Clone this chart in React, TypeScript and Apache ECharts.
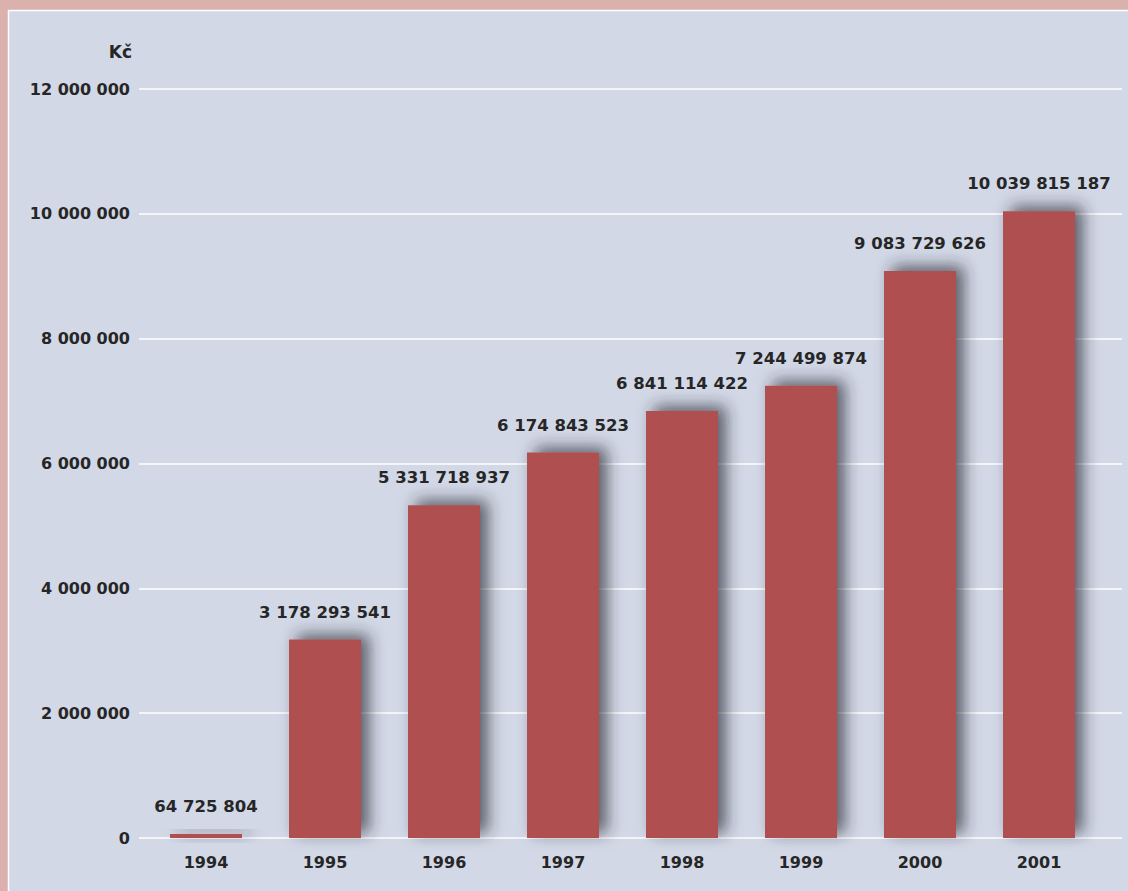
import React, { useEffect, useRef } from "react";
import * as echarts from "echarts";

const years = ["1994", "1995", "1996", "1997", "1998", "1999", "2000", "2001"];
const valuesKc = [64725804, 3178293541, 5331718937, 6174843523, 6841114422, 7244499874, 9083729626, 10039815187];
const unitLabel = "Kč";
const yMax = 12000000;
const yStep = 2000000;

const fmt = (n: number) => String(Math.round(n)).replace(/\B(?=(\d{3})+(?!\d))/g, " ");

export default function App() {
  const ref = useRef<HTMLDivElement>(null);
  useEffect(() => {
    if (!ref.current) return;
    const chart = echarts.init(ref.current, undefined, { renderer: "svg" });
    const font = "'DejaVu Sans', sans-serif";
    const top = 89;
    const bottom = 891 - 838;
    chart.setOption({
      animation: false,
      backgroundColor: "transparent",
      graphic: [
        {
          type: "rect",
          shape: { x: 8.5, y: 10.5, width: 1130, height: 890 },
          style: { fill: "#d2d8e6", stroke: "#ffffff", lineWidth: 1.5 },
          z: -10,
        },
        {
          type: "text",
          x: 132,
          y: 52,
          style: { text: unitLabel, fill: "#262626", font: `bold 17px ${font}`, textAlign: "right", textVerticalAlign: "middle" },
        },
      ],
      grid: [
        { left: 139, right: 6, top, bottom },
        { left: 146.5, right: 29.5, top, bottom },
      ],
      xAxis: [
        { type: "category", gridIndex: 0, data: years, show: false },
        {
          type: "category",
          gridIndex: 1,
          data: years,
          axisLine: { show: false },
          axisTick: { show: false },
          axisLabel: { color: "#262626", fontFamily: font, fontWeight: "bold", fontSize: 16, margin: 16 },
        },
      ],
      yAxis: [
        {
          type: "value",
          gridIndex: 0,
          min: 0,
          max: yMax,
          interval: yStep,
          axisLine: { show: false },
          axisTick: { show: false },
          splitLine: { lineStyle: { color: "#ffffff", width: 1.5 } },
          axisLabel: { color: "#262626", fontFamily: font, fontWeight: "bold", fontSize: 16, margin: 9, formatter: (v: number) => fmt(v) },
        },
        { type: "value", gridIndex: 1, min: 0, max: yMax, interval: yStep, show: false, splitLine: { show: false } },
      ],
      series: [
        {
          type: "bar",
          xAxisIndex: 1,
          yAxisIndex: 1,
          barWidth: 72,
          data: valuesKc.map((v) => v / 1000),
          itemStyle: {
            color: "#b05050",
            shadowColor: "rgba(40,40,50,0.7)",
            shadowBlur: 16,
            shadowOffsetX: 8,
            shadowOffsetY: -5,
          },
          label: {
            show: true,
            position: "top",
            distance: 19,
            color: "#262626",
            fontFamily: font,
            fontWeight: "bold",
            fontSize: 16.5,
            formatter: (p: any) => fmt(valuesKc[p.dataIndex]),
          },
        },
      ],
    });
    return () => chart.dispose();
  }, []);
  return (
    <div style={{ position: "fixed", left: 0, top: 0, width: 1128, height: 891, background: "#dbb1ae" }}>
      <div ref={ref} style={{ width: 1128, height: 891 }} />
    </div>
  );
}
